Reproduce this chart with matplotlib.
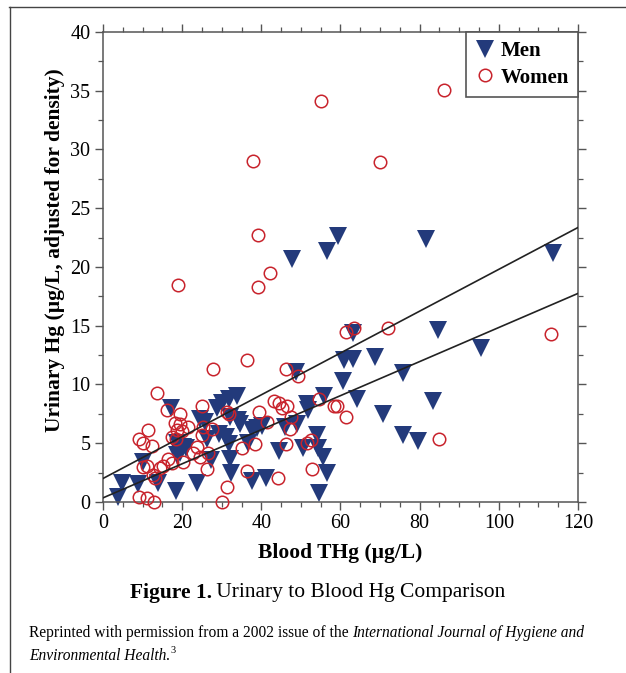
import matplotlib
matplotlib.use('Agg')
import matplotlib.pyplot as plt
from matplotlib.lines import Line2D
from matplotlib.ticker import MultipleLocator

plt.rcParams['font.family'] = ['Liberation Serif', 'DejaVu Serif']

# values
men_x = [3.8, 4.8, 8.8, 10.1, 13.9, 17.2, 18.4, 18.7, 20.2, 21.0, 19.5, 18.7,
         23.7, 24.5, 25.8, 26.3, 27.3, 28.8, 30.0, 31.8, 33.9, 32.1, 34.1, 34.6,
         29.3, 31.0, 31.8, 32.1, 32.4, 37.6, 38.9, 40.2, 36.6, 37.6, 41.3, 44.4,
         46.0, 49.0, 47.8, 48.8, 50.5, 51.5, 51.8, 54.1, 54.3, 55.6, 55.8, 56.6,
         54.6, 56.6, 59.4, 60.6, 60.9, 63.2, 63.2, 64.2, 68.7, 70.7, 75.8, 75.8,
         79.6, 81.6, 83.4, 84.6, 95.5, 113.7]
men_y = [0.4, 1.6, 1.5, 3.4, 1.6, 8.0, 0.9, 5.0, 4.7, 4.6, 4.2, 4.0,
         1.6, 7.1, 6.8, 5.4, 3.6, 8.0, 8.4, 8.8, 9.0, 7.2, 7.0, 6.6,
         5.8, 5.5, 4.9, 3.7, 2.5, 6.1, 6.3, 6.5, 5.0, 1.8, 2.0, 4.3,
         6.4, 6.6, 20.7, 11.1, 4.6, 8.3, 7.8, 5.7, 4.6, 3.8, 9.0, 2.5,
         0.8, 21.4, 22.6, 10.3, 12.1, 12.2, 14.4, 8.8, 12.3, 7.5, 11.0, 5.7,
         5.2, 22.4, 8.6, 14.6, 13.1, 21.2]

women_x = [86.2, 55.1, 37.9, 70.0, 39.2, 42.2, 18.9, 39.2, 61.4, 63.4, 72.0,
           113.2, 84.9, 46.2, 49.3, 36.4, 27.8, 13.6, 25.0, 16.2, 19.5, 18.2,
           19.5, 18.7, 20.0, 21.5, 9.1, 10.1, 12.4, 11.4, 17.4, 18.4, 25.0,
           25.3, 27.5, 23.7, 22.7, 24.5, 26.5, 26.3, 20.2, 16.4, 17.4, 14.4,
           15.2, 12.6, 13.1, 11.1, 10.1, 31.4, 31.8, 39.4, 41.4, 43.1, 44.4,
           45.2, 46.5, 47.5, 47.2, 46.2, 51.5, 52.6, 52.8, 44.2, 54.6, 58.4,
           59.1, 61.4, 35.2, 38.4, 36.4, 31.3, 30.1, 9.1, 11.1, 12.9]
women_y = [35.1, 34.1, 29.0, 28.9, 22.7, 19.5, 18.5, 18.3, 14.5, 14.8, 14.8,
           14.3, 5.4, 11.3, 10.7, 12.1, 11.3, 9.3, 8.2, 7.8, 7.5, 6.7,
           6.6, 6.1, 6.0, 6.4, 5.4, 5.0, 4.8, 6.1, 5.5, 5.4, 5.7,
           6.4, 6.2, 4.7, 4.2, 3.8, 4.2, 2.8, 3.4, 3.7, 3.3, 2.9,
           3.1, 2.3, 2.0, 3.1, 3.0, 7.7, 7.5, 7.7, 6.8, 8.6, 8.4,
           8.0, 8.2, 7.2, 6.2, 4.9, 5.0, 5.3, 2.8, 2.0, 8.8, 8.2,
           8.2, 7.2, 4.6, 4.9, 2.6, 1.3, 0.0, 0.4, 0.3, 0.0]

# regression lines as drawn (intercept, slope)
fit_upper = (2.0, 0.178)
fit_lower = (0.35, 0.145)
fit_x = [0, 120]

navy = '#233a7b'
red = '#c8232c'
grey = '#555555'

fig = plt.figure(figsize=(6.26, 6.73), dpi=100)
ax = fig.add_axes([0.1645, 0.2541, 0.7588, 0.6984])

ax.plot(women_x, women_y, 'o', ms=9, mfc='none', mec=red, mew=1.1,
        clip_on=False, zorder=3)
ax.plot(men_x, men_y, 'v', ms=12.5, color=navy, mec=navy, mew=0,
        clip_on=False, zorder=2)

for b, m in (fit_upper, fit_lower):
    ax.plot(fit_x, [b + m * x for x in fit_x], color='#222222', lw=1.2, zorder=4)

ax.set_xlim(0, 120)
ax.set_ylim(0, 40)
ax.xaxis.set_major_locator(MultipleLocator(20))
ax.xaxis.set_minor_locator(MultipleLocator(5))
ax.yaxis.set_major_locator(MultipleLocator(5))
ax.yaxis.set_minor_locator(MultipleLocator(2.5))
ax.tick_params(which='both', direction='out', top=True, right=True,
               color=grey, labelsize=14.5, pad=3)
ax.tick_params(which='major', length=6, width=1)
ax.tick_params(which='minor', length=3.5, width=0.9)
for s in ax.spines.values():
    s.set_color(grey)
    s.set_linewidth(1.1)

ax.set_xlabel('Blood THg (µg/L)', fontsize=15.5, fontweight='bold')
ax.xaxis.set_label_coords(0.5, -0.108)
ax.set_ylabel('Urinary Hg (µg/L, adjusted for density)', fontsize=15.5,
              fontweight='bold')
ax.yaxis.set_label_coords(-0.101, 0.536)
ax.yaxis.label.set_va('center')
ax.xaxis.label.set_va('center')

handles = [Line2D([], [], ls='none', marker='v', ms=12.5, color=navy, mew=0),
           Line2D([], [], ls='none', marker='o', ms=9, mfc='none', mec=red, mew=1.1)]
leg = ax.legend(handles, ['Men', 'Women'], loc='upper right', borderaxespad=0,
                fancybox=False, framealpha=1, edgecolor=grey, handlelength=0.9,
                handletextpad=0.3, borderpad=0.45, labelspacing=0.3,
                prop={'weight': 'bold', 'size': 15})
leg.get_frame().set_linewidth(1.2)

# outer frame of the page box
fig.add_artist(Line2D([9 / 626, 1], [1 - 7 / 673] * 2, transform=fig.transFigure,
                      color='#444444', lw=1))
fig.add_artist(Line2D([9.5 / 626] * 2, [0, 1 - 7 / 673], transform=fig.transFigure,
                      color='#444444', lw=1))


def text_run(x, y, pieces, center=False):
    rend = fig.canvas.get_renderer()
    items = [fig.text(0, y, s, va='center', **kw) for s, kw in pieces]
    widths = [t.get_window_extent(rend).width / fig.bbox.width for t in items]
    pos = x - sum(widths) / 2 if center else x
    for t, w in zip(items, widths):
        t.set_x(pos)
        pos += w
    return items


fig.canvas.draw()
text_run(0.508, 0.119, [('Figure 1.', dict(fontsize=15.5, fontweight='bold')),
                        ('\u2009Urinary to Blood Hg Comparison', dict(fontsize=15.5))],
         center=True)
text_run(0.046, 0.060, [('Reprinted with permission from a 2002 issue of the ',
                         dict(fontsize=11.2)),
                        ('International Journal of Hygiene and',
                         dict(fontsize=11.2, style='italic'))])
parts = text_run(0.046, 0.025, [('Environmental Health', dict(fontsize=11.2, style='italic')),
                                ('.', dict(fontsize=11.2)),
                                ('3', dict(fontsize=7.5))])
parts[-1].set_y(0.034)

fig.savefig('out.png', dpi=100)
